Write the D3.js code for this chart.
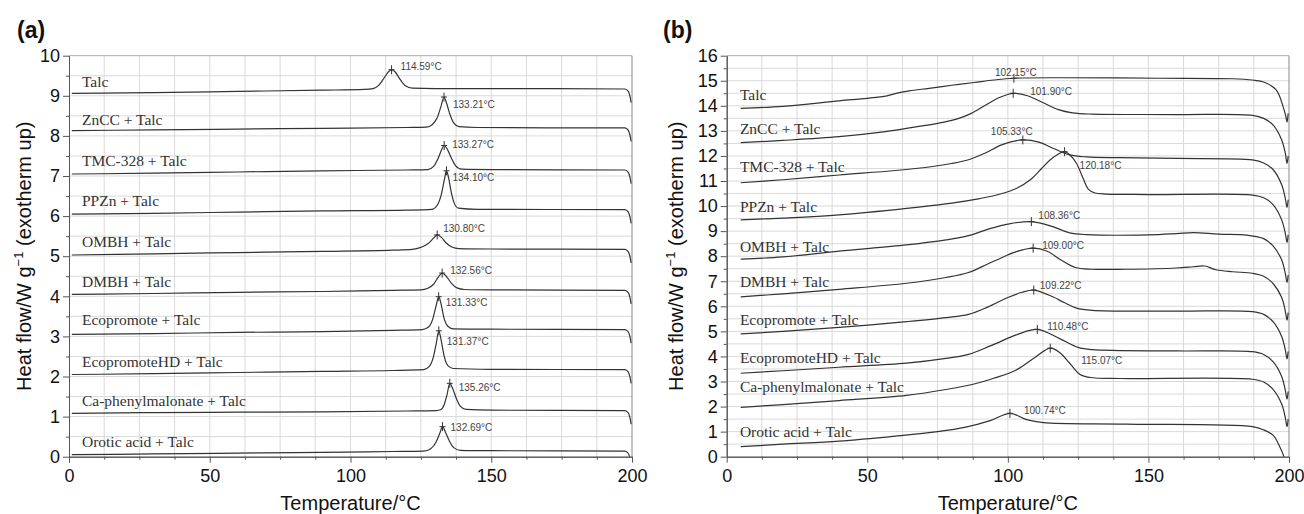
<!DOCTYPE html>
<html>
<head>
<meta charset="utf-8">
<script src="https://cdn.jsdelivr.net/npm/d3@7"></script>
<style>
  body { margin: 0; background: #fff; }
  svg { display: block; }
  .axis .tick text { font-family: 'Liberation Sans', Arial, sans-serif; font-size: 18px; fill: #111; }
  .axis path, .axis line { stroke: #555; }
  .title { font-family: 'Liberation Sans', Arial, sans-serif; font-size: 20px; fill: #111; }
  .name { font-family: 'Liberation Serif', 'Times New Roman', serif; font-size: 15.5px; fill: #333; }
  .peak { font-family: 'Liberation Sans', Arial, sans-serif; font-size: 10px; fill: #444; }
  .panel { font-family: 'Liberation Sans', Arial, sans-serif; font-size: 23px; font-weight: bold; fill: #111; }
</style>
</head>
<body>
<svg id="chart" width="1304" height="514"></svg>
<script>
// samples, top trace to bottom trace
const samples = ['Talc', 'ZnCC + Talc', 'TMC-328 + Talc', 'PPZn + Talc', 'OMBH + Talc',
  'DMBH + Talc', 'Ecopromote + Talc', 'EcopromoteHD + Talc', 'Ca-phenylmalonate + Talc', 'Orotic acid + Talc'];

// marked peak temperatures, °C
const peaksA = [114.59, 133.21, 133.27, 134.10, 130.80, 132.56, 131.33, 131.37, 135.26, 132.69];
const peaksB = [102.15, 101.90, 105.33, 120.18, 108.36, 109.00, 109.22, 110.48, 115.07, 100.74];

// tick labels
const xTicks = [0, 50, 100, 150, 200];
const yTicksA = [0, 1, 2, 3, 4, 5, 6, 7, 8, 9, 10];
const yTicksB = [0, 1, 2, 3, 4, 5, 6, 7, 8, 9, 10, 11, 12, 13, 14, 15, 16];

// (a) heat flow traces [T °C, W/g], shifted
const curvesA = [
  [[1,9.06],[30,9.08],[60,9.11],[90,9.14],[105,9.16],[108,9.18],[110,9.26],[112,9.45],[113.5,9.6],[114.59,9.65],[115.8,9.6],[117.5,9.42],[119.5,9.25],[122,9.19],[130,9.18],[160,9.18],[197.5,9.17],[198.7,9.11],[199.3,8.98],[199.7,8.83]],
  [[1,8.13],[30,8.15],[60,8.17],[90,8.19],[120,8.21],[127,8.22],[129,8.28],[130.8,8.45],[132.2,8.75],[133.21,8.97],[134.2,8.8],[135.4,8.52],[136.8,8.31],[138.5,8.23],[145,8.21],[170,8.2],[197.5,8.2],[198.7,8.14],[199.3,8.01],[199.7,7.86]],
  [[1,7.05],[30,7.07],[60,7.1],[90,7.13],[120,7.15],[127.5,7.16],[129.5,7.24],[131.2,7.45],[132.4,7.66],[133.27,7.76],[134.3,7.68],[135.8,7.45],[137.3,7.26],[139.5,7.17],[150,7.16],[197.5,7.15],[198.7,7.09],[199.3,6.96],[199.7,6.81]],
  [[1,6.05],[30,6.07],[60,6.1],[90,6.13],[120,6.15],[129,6.17],[130.8,6.27],[132.3,6.55],[133.4,6.93],[134.1,7.13],[134.8,6.97],[135.7,6.63],[136.8,6.33],[138.3,6.2],[145,6.17],[197.5,6.16],[198.7,6.1],[199.3,5.97],[199.7,5.82]],
  [[1,5.03],[30,5.06],[60,5.09],[90,5.12],[115,5.15],[122,5.17],[125,5.22],[127.5,5.31],[129.5,5.45],[130.8,5.53],[132.3,5.47],[134,5.33],[136,5.23],[138.5,5.19],[150,5.18],[197.5,5.17],[198.7,5.11],[199.3,4.98],[199.7,4.83]],
  [[1,4.05],[30,4.07],[60,4.1],[90,4.12],[115,4.15],[125,4.16],[127.5,4.2],[129.5,4.3],[131.2,4.48],[132.56,4.58],[134,4.5],[135.8,4.33],[137.8,4.21],[140.5,4.17],[150,4.16],[197.5,4.15],[198.7,4.09],[199.3,3.96],[199.7,3.81]],
  [[1,3.05],[30,3.07],[60,3.1],[90,3.12],[115,3.15],[125.5,3.17],[127.8,3.24],[129.3,3.45],[130.4,3.76],[131.33,3.99],[132.2,3.8],[133.2,3.46],[134.5,3.26],[136.5,3.19],[150,3.18],[197.5,3.17],[198.7,3.11],[199.3,2.98],[199.7,2.83]],
  [[1,2.05],[30,2.07],[60,2.1],[90,2.13],[115,2.15],[126,2.17],[128,2.25],[129.5,2.5],[130.5,2.84],[131.37,3.14],[132.3,2.87],[133.3,2.5],[134.6,2.27],[136.5,2.2],[150,2.18],[197.5,2.17],[198.7,2.11],[199.3,1.98],[199.7,1.83]],
  [[1,1.08],[30,1.1],[60,1.11],[90,1.12],[120,1.14],[130.5,1.15],[132,1.17],[133.3,1.3],[134.3,1.55],[135.26,1.83],[136.3,1.7],[137.6,1.45],[139,1.26],[141,1.18],[150,1.16],[197.5,1.15],[198.7,1.09],[199.3,0.96],[199.7,0.81]],
  [[1,0.05],[30,0.07],[60,0.09],[90,0.11],[115,0.13],[126,0.14],[128.5,0.2],[130.5,0.38],[131.8,0.6],[132.69,0.75],[133.8,0.6],[135.2,0.38],[136.8,0.22],[139,0.16],[150,0.15],[197.5,0.14],[198.7,0.08],[199.3,-0.05],[199.7,-0.2]]
];

// (b) heat flow traces [T °C, W/g], shifted
const curvesB = [
  [[5,13.9],[20,13.98],[40,14.2],[50,14.3],[57,14.4],[61,14.52],[65,14.6],[72,14.7],[80,14.82],[88,14.93],[95,15.03],[102.15,15.1],[120,15.12],[154,15.1],[180,15.08],[187,15.03],[191,14.95],[195.5,14.63],[197.9,13.97],[198.9,13.57],[199.3,13.35],[199.7,13.7]],
  [[5,12.53],[20,12.62],[40,12.77],[55,12.95],[65,13.12],[75,13.3],[82,13.48],[87,13.7],[92,14.02],[97,14.33],[101.9,14.5],[107,14.4],[112.6,14.12],[118,13.85],[123,13.72],[130,13.67],[160,13.65],[187,13.62],[191,13.5],[194.4,13.23],[197.4,12.64],[198.7,12.1],[199.3,11.7],[199.7,12.0]],
  [[5,10.93],[20,11.05],[40,11.24],[60,11.42],[72,11.56],[80,11.7],[86,11.85],[92,12.12],[98,12.45],[105.33,12.64],[111,12.55],[116,12.31],[122,12.04],[128,11.96],[140,11.93],[160,11.9],[187,11.84],[191,11.72],[194.4,11.45],[197.4,10.85],[198.7,10.3],[199.3,9.95],[199.7,10.25]],
  [[5,9.45],[20,9.52],[40,9.65],[64,9.91],[80,10.12],[90,10.3],[97,10.47],[103,10.7],[108,11.05],[112,11.5],[115,11.84],[118,12.08],[120.18,12.17],[122,12.05],[124.4,11.71],[126.8,11.1],[128.6,10.68],[131,10.52],[135,10.48],[150,10.46],[187,10.44],[191,10.33],[194.4,10.05],[197.4,9.45],[198.7,8.9],[199.3,8.55],[199.7,8.85]],
  [[5,7.88],[20,7.97],[40,8.2],[64,8.45],[78,8.65],[86,8.82],[93,9.08],[100,9.28],[108.36,9.38],[116,9.18],[122,8.93],[128,8.86],[150,8.85],[160,8.9],[166,8.94],[175,8.88],[185,8.84],[191,8.7],[194.4,8.4],[197.4,7.85],[198.7,7.3],[199.3,6.95],[199.7,7.25]],
  [[5,6.38],[20,6.5],[40,6.68],[64,6.92],[78,7.15],[86,7.35],[93,7.7],[98,7.95],[103,8.18],[109,8.32],[114,8.2],[118.6,7.87],[124,7.55],[130,7.48],[142,7.48],[160,7.53],[166,7.58],[170,7.61],[174,7.46],[180,7.38],[187,7.32],[191,7.2],[194.4,6.9],[197.4,6.35],[198.7,5.8],[199.3,5.45],[199.7,5.75]],
  [[5,4.9],[20,5.0],[40,5.16],[64,5.39],[78,5.55],[86,5.68],[93,5.98],[100,6.35],[105,6.56],[109.22,6.65],[116,6.38],[120,6.15],[124.4,5.93],[130,5.84],[160,5.81],[187,5.79],[191,5.68],[194.4,5.38],[197.4,4.8],[198.7,4.25],[199.3,3.9],[199.7,4.2]],
  [[5,3.33],[20,3.43],[40,3.57],[64,3.73],[78,3.92],[86,4.08],[94,4.43],[103,4.86],[110.48,5.08],[118.6,4.7],[125,4.36],[130,4.27],[160,4.22],[187,4.19],[191,4.08],[194.4,3.78],[197.4,3.2],[198.7,2.65],[199.3,2.3],[199.7,2.6]],
  [[5,1.97],[20,2.08],[40,2.24],[64,2.45],[78,2.68],[88,2.9],[95,3.13],[103,3.46],[110,3.99],[115.07,4.33],[118.5,4.15],[122,3.73],[125.7,3.28],[129.3,3.16],[140,3.12],[187,3.09],[191,2.98],[194.4,2.68],[197.4,2.1],[198.7,1.55],[199.3,1.2],[199.7,1.5]],
  [[5,0.4],[20,0.5],[40,0.62],[60,0.82],[75,1.0],[85,1.18],[94,1.45],[100.74,1.73],[106.7,1.48],[112.6,1.36],[142,1.3],[187,1.2],[191,1.07],[194.4,0.85],[196.5,0.45],[198.2,0],[198.6,-0.2]]
];

// layout: peak label offsets [dx, dy] from the marker, px
const peakOffA = [[9,-3],[9,7],[8,-1],[6,7],[6,-6],[8,-3],[7,6],[8,11],[9,4],[8,1]];
const peakOffB = [[-19,-6],[17,-2],[-32,-8],[15,14],[7,-6],[9,-3],[6,-4.5],[10,-3],[31,12],[14,-3]];
// layout: sample name lift above the trace start, px
const nameDyA = [-12,-11,-13.5,-13.5,-13,-12.7,-14.5,-13,-12.7,-13];
const nameDyB = [-14,-14,-16,-13,-13,-15,-14.5,-16,-20.5,-15];

const svg = d3.select('#chart');

const panels = [
  { id: 'a', left: 69, right: 632, top: 55.7, bottom: 456.7, yMax: 10, yTicks: yTicksA,
    curves: curvesA, peaks: peaksA, peakOff: peakOffA, nameDy: nameDyA, nameT: 4.6, yTitleX: 30.5, tagX: 17,
    curve: d3.curveMonotoneX },
  { id: 'b', left: 726.7, right: 1289, top: 55.7, bottom: 456.7, yMax: 16, yTicks: yTicksB,
    curves: curvesB, peaks: peaksB, peakOff: peakOffB, nameDy: nameDyB, nameT: 4.7, yTitleX: 682.5, tagX: 663,
    curve: d3.curveCatmullRom.alpha(0.5) }
];

function drawPanel(p) {
  const x = d3.scaleLinear().domain([0, 200]).range([p.left, p.right]);
  const y = d3.scaleLinear().domain([0, p.yMax]).range([p.bottom, p.top]);
  const g = svg.append('g').attr('class', `panel-${p.id}`);

  // grid
  g.append('g').selectAll('line')
    .data(d3.range(12.5, 200, 12.5))
    .join('line')
    .attr('x1', d => x(d)).attr('x2', d => x(d))
    .attr('y1', p.top).attr('y2', p.bottom)
    .attr('stroke', '#d9d9d9');
  g.append('g').selectAll('line')
    .data(d3.range(0.5, p.yMax, 0.5))
    .join('line')
    .attr('x1', p.left).attr('x2', p.right)
    .attr('y1', d => y(d)).attr('y2', d => y(d))
    .attr('stroke', '#d9d9d9');

  // frame top / right
  g.append('line').attr('x1', p.left).attr('x2', p.right).attr('y1', p.top).attr('y2', p.top).attr('stroke', '#aaa');
  g.append('line').attr('x1', p.right).attr('x2', p.right).attr('y1', p.top).attr('y2', p.bottom).attr('stroke', '#888');

  // axes
  g.append('g').attr('class', 'axis').attr('transform', `translate(0,${p.bottom})`)
    .call(d3.axisBottom(x).tickValues(d3.range(12.5, 200, 12.5).filter(d => d % 50)).tickSize(3).tickSizeOuter(0).tickFormat(''));
  g.append('g').attr('class', 'axis').attr('transform', `translate(0,${p.bottom})`)
    .call(d3.axisBottom(x).tickValues(xTicks).tickSize(6).tickSizeOuter(0).tickPadding(7));
  g.append('g').attr('class', 'axis').attr('transform', `translate(${p.left},0)`)
    .call(d3.axisLeft(y).tickValues(d3.range(0.5, p.yMax, 1)).tickSize(3).tickSizeOuter(0).tickFormat(''));
  g.append('g').attr('class', 'axis').attr('transform', `translate(${p.left},0)`)
    .call(d3.axisLeft(y).tickValues(p.yTicks).tickSize(6).tickSizeOuter(0).tickPadding(3));

  // traces
  g.append('clipPath').attr('id', `clip-${p.id}`)
    .append('rect').attr('x', p.left).attr('y', p.top).attr('width', p.right - p.left + 1).attr('height', p.bottom - p.top);
  const line = d3.line().x(d => x(d[0])).y(d => y(d[1])).curve(p.curve);
  g.append('g').attr('clip-path', `url(#clip-${p.id})`)
    .selectAll('path')
    .data(p.curves)
    .join('path')
    .attr('d', line)
    .attr('fill', 'none')
    .attr('stroke', '#333')
    .attr('stroke-width', 1.2);

  // peak markers and labels
  p.peaks.forEach((t, i) => {
    const pt = d3.least(p.curves[i], d => Math.abs(d[0] - t));
    const px = x(t), py = y(pt[1]);
    g.append('line').attr('x1', px).attr('x2', px).attr('y1', py - 4.5).attr('y2', py + 4.5).attr('stroke', '#333');
    g.append('line').attr('x1', px - 3).attr('x2', px + 3).attr('y1', py).attr('y2', py).attr('stroke', '#333');
    g.append('text').attr('class', 'peak')
      .attr('x', px + p.peakOff[i][0]).attr('y', py + p.peakOff[i][1]).attr('dy', '0.35em')
      .text(`${t.toFixed(2)}°C`);
  });

  // sample names
  g.append('g').selectAll('text')
    .data(samples)
    .join('text')
    .attr('class', 'name')
    .attr('x', x(p.nameT))
    .attr('y', (d, i) => y(p.curves[i][0][1]) + p.nameDy[i])
    .attr('dy', '0.35em')
    .text(d => d);

  // axis titles
  g.append('text').attr('class', 'title')
    .attr('x', (p.left + p.right) / 2).attr('y', 510)
    .attr('text-anchor', 'middle')
    .text('Temperature/°C');
  const yt = g.append('text').attr('class', 'title')
    .attr('transform', `translate(${p.yTitleX},${(p.top + p.bottom) / 2}) rotate(-90)`)
    .attr('text-anchor', 'middle');
  yt.append('tspan').text('Heat flow/W g');
  yt.append('tspan').attr('font-size', 13).attr('dy', -8).text('\u22121');
  yt.append('tspan').attr('dy', 8).text(' (exotherm up)');

  g.append('text').attr('class', 'panel').attr('x', p.tagX).attr('y', 38).text(`(${p.id})`);
}

panels.forEach(drawPanel);
</script>
</body>
</html>
